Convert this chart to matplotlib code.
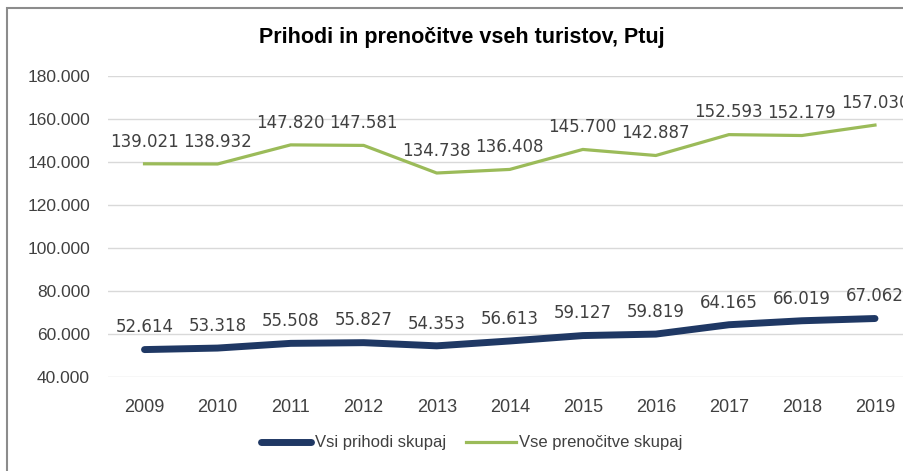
import matplotlib.pyplot as plt
from matplotlib.patches import Rectangle
from matplotlib.ticker import FuncFormatter

years = [2009, 2010, 2011, 2012, 2013, 2014, 2015, 2016, 2017, 2018, 2019]
prihodi = [52614, 53318, 55508, 55827, 54353, 56613, 59127, 59819, 64165, 66019, 67062]
prenocitve = [139021, 138932, 147820, 147581, 134738, 136408, 145700, 142887, 152593, 152179, 157030]
yticks = [40000, 60000, 80000, 100000, 120000, 140000, 160000, 180000]

def fmt(v):
    return "{:,}".format(int(v)).replace(",", ".")

plt.rcParams['font.family'] = ['Liberation Sans', 'DejaVu Sans']
txt = '#404040'

fig = plt.figure(figsize=(9.04, 4.71), dpi=100)
# chart frame (cut off at right/bottom)
fig.patches.append(Rectangle((7/904, -0.1), 1.2, 1 - 8/471 + 0.1, transform=fig.transFigure,
                             fill=False, edgecolor='#8c8c8c', linewidth=1.5))

ax = fig.add_axes([108/904, 1 - 376.7/471, 803.5/904, 301/471])
ax.set_xlim(2008.5, 2019.5)
ax.set_ylim(40000, 180000)

l1, = ax.plot(years, prihodi, color='#1F3864', linewidth=5, solid_capstyle='round',
              label='Vsi prihodi skupaj', zorder=3)
l2, = ax.plot(years, prenocitve, color='#9BBB59', linewidth=2.3,
              label='Vse prenočitve skupaj', zorder=3)

for x, v in zip(years, prihodi):
    ax.annotate(fmt(v), (x, v), xytext=(0, 16), textcoords='offset points', ha='center',
                va='center', fontsize=12, color=txt, family='DejaVu Sans', clip_on=False)
for x, v in zip(years, prenocitve):
    ax.annotate(fmt(v), (x, v), xytext=(0, 16), textcoords='offset points', ha='center',
                va='center', fontsize=12, color=txt, family='DejaVu Sans', clip_on=False)

ax.set_xticks(years)
ax.set_yticks(yticks)
ax.yaxis.set_major_formatter(FuncFormatter(lambda v, p: fmt(v)))
ax.tick_params(axis='both', length=0, labelsize=12.5, colors=txt)
ax.tick_params(axis='x', labelsize=13, pad=16)
ax.tick_params(axis='y', pad=13)
ax.grid(axis='y', color='#d9d9d9', linewidth=1)
ax.set_axisbelow(True)
for s in ax.spines.values():
    s.set_visible(False)

fig.text(462/904, 1 - 38/471, 'Prihodi in prenočitve vseh turistov, Ptuj', ha='center',
         va='center', fontsize=15.5, fontweight='bold', color='black')

fig.legend(handles=[l1, l2], loc='center', bbox_to_anchor=(472/904, 1 - 443/471), ncol=2,
           frameon=False, fontsize=12, labelcolor=txt, handlelength=3, columnspacing=1.2,
           handletextpad=0.2)

fig.savefig('out.png', dpi=100)
